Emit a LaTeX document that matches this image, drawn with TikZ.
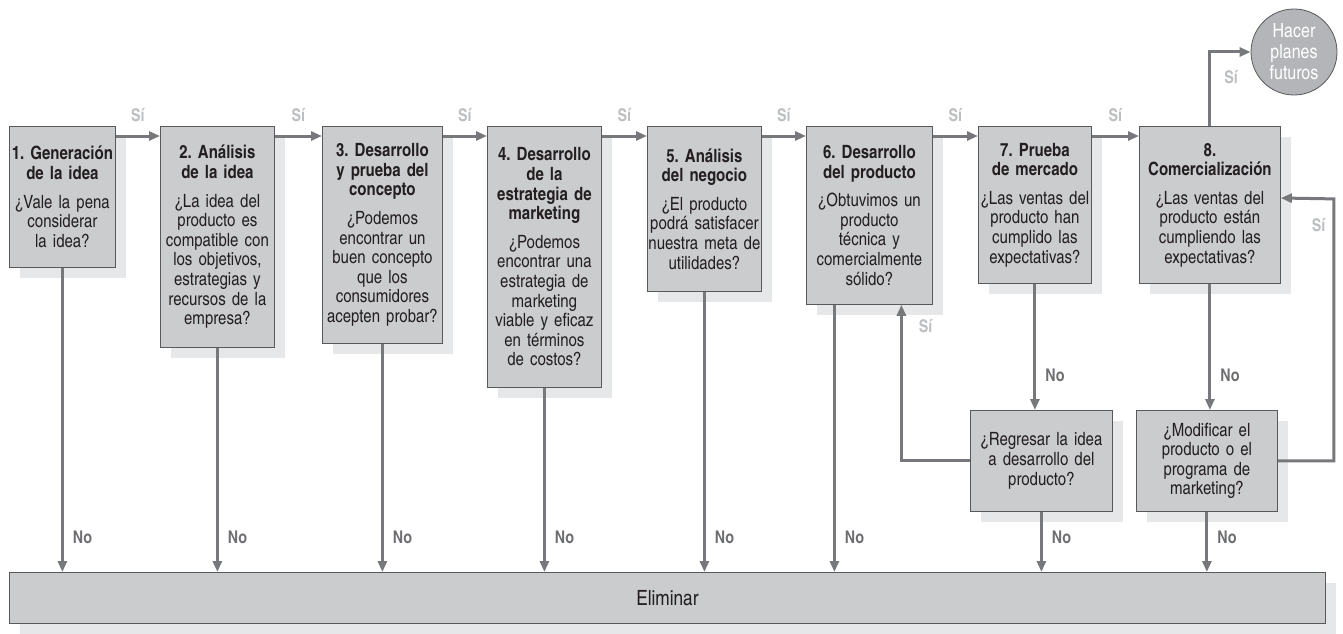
\documentclass[tikz,border=0pt]{standalone}
\usepackage{fontspec}
\setmainfont{texgyreheroscn}[Extension=.otf, UprightFont=*-regular, BoldFont=*-bold, ItalicFont=*-italic, BoldItalicFont=*-bolditalic]
\frenchspacing
\usetikzlibrary{arrows.meta,shadows}
\definecolor{boxgray}{HTML}{CBCCCE}
\definecolor{edgegray}{HTML}{58595B}
\definecolor{shadegray}{HTML}{E6E7E8}
\definecolor{flowgray}{HTML}{77787B}
\definecolor{sigray}{HTML}{BCBEC0}
\definecolor{nogray}{HTML}{6D6E71}
\definecolor{plangray}{HTML}{B4B5B8}
\definecolor{inkgray}{HTML}{231F20}
\tikzset{
  stage/.style={draw=edgegray, line width=0.8pt, fill=boxgray, text=inkgray, align=center,
    inner sep=0pt, anchor=north west, font=\fontsize{18.3}{19.6}\selectfont,
    drop shadow={shadow xshift=11pt, shadow yshift=-11pt, fill=shadegray, opacity=1}},
  flow/.style={draw=flowgray, line width=3pt, -{Triangle[length=11pt,width=9pt]}},
  silab/.style={text=sigray, inner sep=2pt, font=\bfseries\fontsize{17.5}{19}\selectfont},
  nolab/.style={text=nogray, inner sep=2pt, anchor=south west, xshift=7pt, yshift=25pt,
    font=\bfseries\fontsize{17.5}{19}\selectfont},
  plan/.style={circle, draw=edgegray, line width=0.8pt, fill=plangray, text=white, align=center,
    inner sep=0pt, minimum size=86pt, font=\fontsize{19.5}{21}\selectfont}
}
\begin{document}
\begin{tikzpicture}[x=1pt, y=-1pt]
  \useasboundingbox (0,0) rectangle (1343,634);
  % etapas
  \node[stage, text width=106pt, minimum height=141pt] (b1) at (9,126)
    {\bfseries 1. Generación\\de la idea\\[9pt]\mdseries ¿Vale la pena\\considerar\\la idea?};
  \node[stage, text width=114pt, minimum height=221pt] (b2) at (160,126)
    {\bfseries 2. Análisis\\de la idea\\[9pt]\mdseries ¿La idea del\\producto es\\compatible con\\los objetivos,\\estrategias y\\recursos de la\\empresa?};
  \node[stage, text width=120pt, minimum height=217pt] (b3) at (322,126)
    {\bfseries 3. Desarrollo\\y prueba del\\concepto\\[9pt]\mdseries ¿Podemos\\encontrar un\\buen concepto\\que los\\consumidores\\acepten probar?};
  \node[stage, text width=114pt, minimum height=261pt] (b4) at (487,126)
    {\bfseries 4. Desarrollo\\de la\\estrategia de\\marketing\\[9pt]\mdseries ¿Podemos\\encontrar una\\estrategia de\\marketing\\viable y eficaz\\en términos\\de costos?};
  \node[stage, text width=114pt, minimum height=165pt] (b5) at (647,126)
    {\bfseries 5. Análisis\\del negocio\\[9pt]\mdseries ¿El producto\\podrá satisfacer\\nuestra meta de\\utilidades?};
  \node[stage, text width=126pt, minimum height=178pt] (b6) at (806,126)
    {\bfseries 6. Desarrollo\\del producto\\[9pt]\mdseries ¿Obtuvimos un\\producto\\técnica y\\comercialmente\\sólido?};
  \node[stage, text width=113pt, minimum height=157pt] (b7) at (978,126)
    {\bfseries 7. Prueba\\de mercado\\[9pt]\mdseries ¿Las ventas del\\producto han\\cumplido las\\expectativas?};
  \node[stage, text width=141pt, minimum height=157pt] (b8) at (1139,126)
    {\bfseries 8.\\Comercialización\\[9pt]\mdseries ¿Las ventas del\\producto están\\cumpliendo las\\expectativas?};
  \node[stage, text width=142pt, minimum height=101pt] (reg) at (970,410)
    {¿Regresar la idea\\a desarrollo del\\producto?};
  \node[stage, text width=141pt, minimum height=101pt] (mod) at (1136,410)
    {¿Modificar el\\producto o el\\programa de\\marketing?};
  \node[stage, text width=1316pt, minimum height=51pt, font=\fontsize{21}{24}\selectfont] (bar) at (9,572) {Eliminar};
  \node[plan] (plan) at (1294,52) {Hacer\\planes\\futuros};
  % flechas
  \foreach \a/\b in {b1/b2,b2/b3,b3/b4,b4/b5,b5/b6,b6/b7,b7/b8}
    \draw[flow] ([yshift=-10pt]\a.north east) -- ([yshift=-10pt]\b.north west) node[silab, midway, above=11pt] {Sí};
  \foreach \b in {b1,b2,b3,b4,b5,reg,mod}
    \draw[flow] (\b) -- (\b |- bar.north) node[nolab] {No};
  \coordinate (b6l) at ([xshift=-35pt]b6.south);
  \coordinate (b6r) at ([xshift=32pt]b6.south);
  \draw[flow] (b6l) -- (b6l |- bar.north) node[nolab] {No};
  \draw[flow] (b7) -- (b7 |- reg.north) node[nolab] {No};
  \draw[flow] (b8) -- (b8 |- mod.north) node[nolab] {No};
  \draw[flow] (reg.west) -| (b6r) node[silab, anchor=north west, xshift=14pt, yshift=-11pt] {Sí};
  \draw[flow] (mod.east) -| ++(56,-262) node[silab, anchor=north east, xshift=-5pt, yshift=-16pt] {Sí}
    -- ([yshift=-72pt]b8.north east);
  \draw[flow] (b8.north) |- (plan.west) node[silab, pos=0.33, right=11pt] {Sí};
\end{tikzpicture}
\end{document}
